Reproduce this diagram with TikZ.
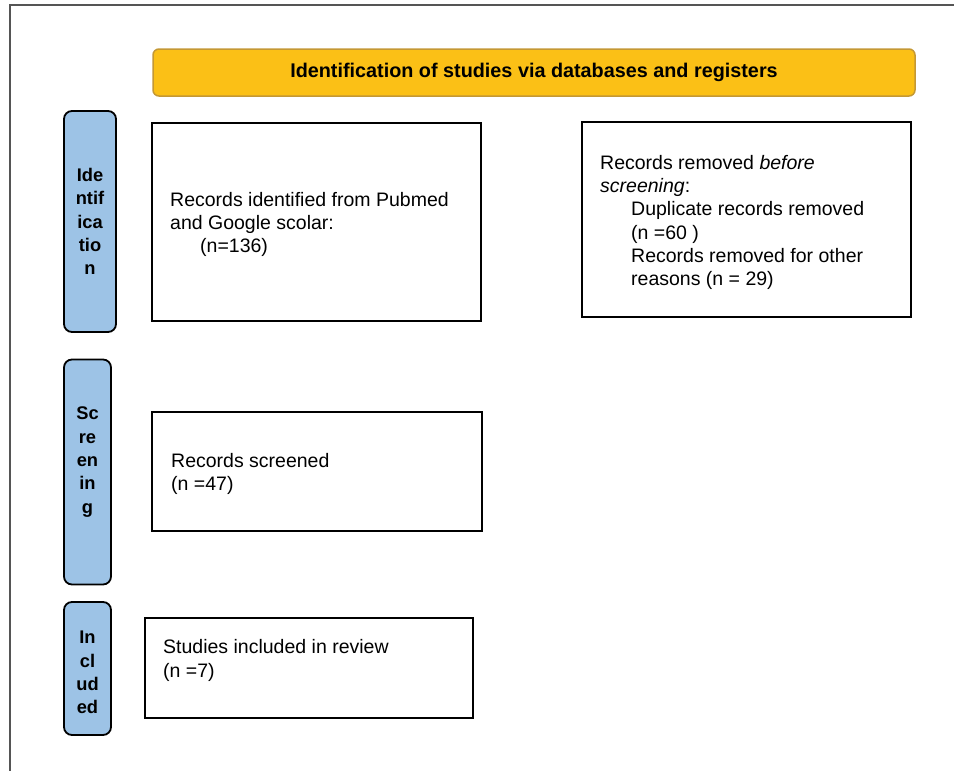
\documentclass[tikz,border=0pt]{standalone}
\usepackage{fontspec}
\setmainfont{Liberation Sans}
\definecolor{hdrYellow}{RGB}{251,192,22}
\definecolor{hdrEdge}{RGB}{196,152,52}
\definecolor{stageBlue}{RGB}{157,195,230}
\definecolor{frameGray}{RGB}{85,85,85}
\begin{document}
\begin{tikzpicture}[x=1pt,y=-1pt]
    % Node styles
    \tikzset{
      header/.style={draw=hdrEdge, fill=hdrYellow, line width=1.5pt, rounded corners=6pt,
        font=\fontsize{19.8}{23}\selectfont\bfseries, inner sep=0pt},
      stage/.style={draw=black, fill=stageBlue, line width=1.8pt, rounded corners=8pt, inner sep=0pt},
      stage text/.style={font=\fontsize{18.3}{23.3}\selectfont\bfseries, align=center, inner sep=0pt},
      box/.style={draw=black, line width=1.8pt, inner sep=0pt},
      box text/.style={anchor=west, inner sep=0pt, align=left, font=\fontsize{19.5}{23.2}\selectfont}
    }
    \useasboundingbox (0,0) rectangle (954,771);

    % --- Frame (top and left edges only) ---
    \draw[frameGray, line width=2pt] (954,5) -- (10,5) -- (10,771);

    % --- Header ---
    \node[header, minimum width=762pt, minimum height=47pt] (title) at (534,72.5)
      {Identification of studies via databases and registers};

    % --- Stage bars on the left ---
    \node[stage, minimum width=52pt, minimum height=221pt] (idStage) at (90,221.5) {};
    \node[stage text] (idLabel) at (90,221.5) {Ide\\ntif\\ica\\tio\\n};

    \node[stage, minimum width=47pt, minimum height=225pt] (scrStage) at (87.5,472) {};
    \node[stage text] (scrLabel) at (87.5,462) {Sc\\re\\en\\in\\g};

    \node[stage, minimum width=47pt, minimum height=133pt] (incStage) at (87.5,668.5) {};
    \node[stage text] (incLabel) at (87.5,672.5) {In\\cl\\ud\\ed};

    % --- Identification ---
    \node[box, minimum width=329pt, minimum height=198pt] (recIdent) at (316.5,222) {};
    \node[box text] (recIdentText) at (170,224.5)
      {Records identified from Pubmed\\and Google scolar:\\\hspace*{30pt}(n=136)};

    \node[box, minimum width=329pt, minimum height=195pt] (recRemoved) at (746.5,219.5) {};
    \node[box text] (recRemovedText) at (600,222.5)
      {Records removed \textit{before}\\\textit{screening}:\\
       \hspace*{31pt}Duplicate records removed\\\hspace*{31pt}(n =60 )\\
       \hspace*{31pt}Records removed for other\\\hspace*{31pt}reasons (n = 29)};

    % --- Screening ---
    \node[box, minimum width=330pt, minimum height=119pt] (recScreened) at (317,471.5) {};
    \node[box text] (recScreenedText) at (171,474) {Records screened\\(n =47)};

    % --- Included ---
    \node[box, minimum width=328pt, minimum height=100pt] (studiesIncl) at (309,668) {};
    \node[box text] (studiesText) at (163,660.5) {Studies included in review\\(n =7)};

\end{tikzpicture}
\end{document}
